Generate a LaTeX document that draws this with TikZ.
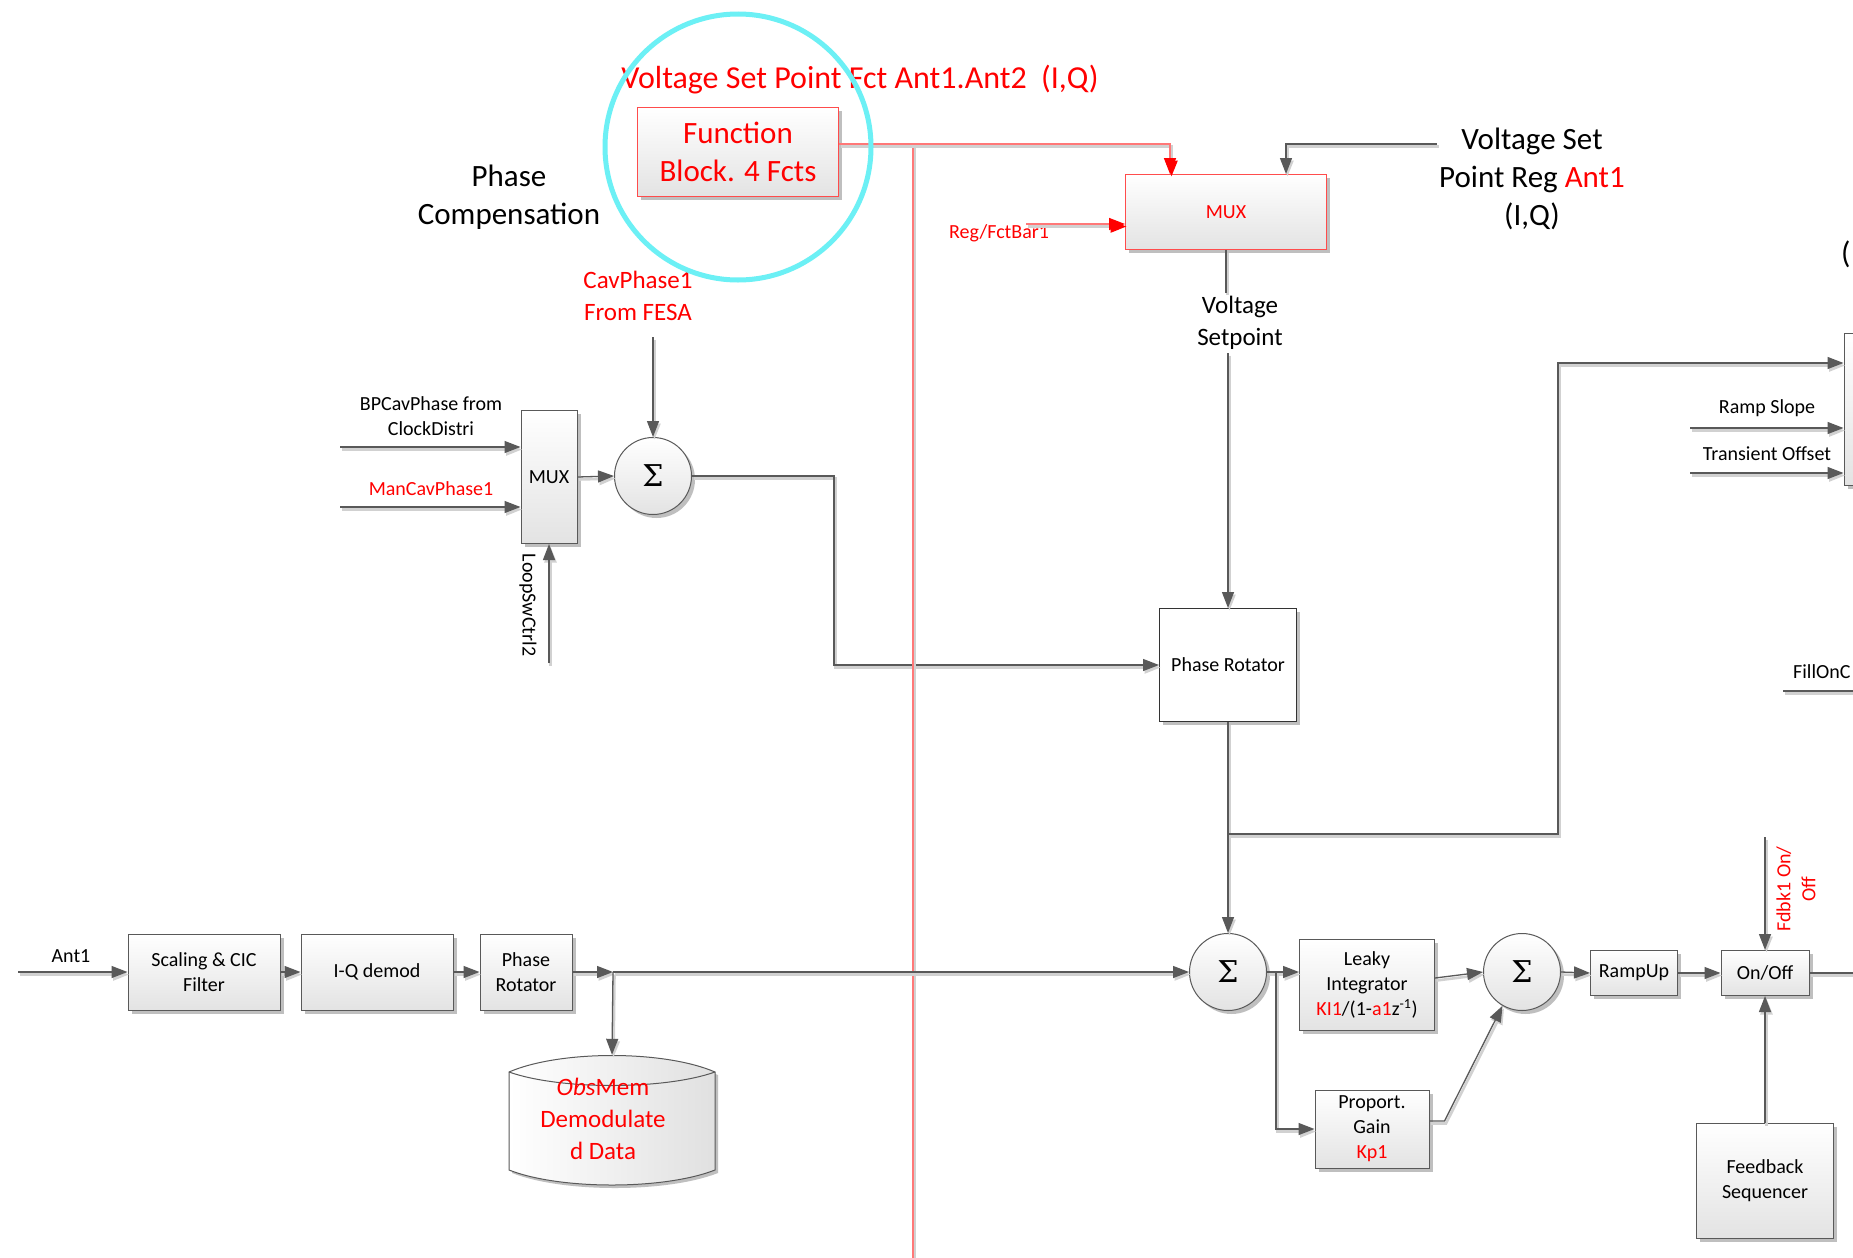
\documentclass[tikz,border=0pt]{standalone}
\usepackage{fontspec}
\setmainfont{Carlito}
\newfontfamily\dvserif{DejaVu Serif}
\usetikzlibrary{arrows.meta,shadows}
\newcommand\fBig{\fontsize{31}{38}\selectfont}
\newcommand\fTitle{\fontsize{32}{38}\selectfont}
\newcommand\fMed{\fontsize{25}{32}\selectfont}
\newcommand\fSm{\fontsize{20}{25}\selectfont}
\newcommand\fSig{\fontsize{30}{30}\selectfont\dvserif}
\definecolor{cyanc}{RGB}{108,240,245}
\definecolor{pinkr}{RGB}{255,120,120}
\tikzset{
  wire/.style={draw=black!65, line width=1.3pt,
    preaction={draw=black!18, line width=2.6pt, transform canvas={shift={(1.5pt,-2.5pt)}}}},
  arr/.style={wire, -{Triangle[length=16pt,width=12pt]}},
  redwire/.style={draw=pinkr, line width=1.5pt,
    preaction={draw=black!18, line width=2.6pt, transform canvas={shift={(1.5pt,-2.5pt)}}}},
  redarr/.style={redwire, -{Triangle[length=16pt,width=12pt,color=red,fill=red]}},
  box/.style={draw=black!65, line width=1pt, top color=white, bottom color=black!11,
    drop shadow={shadow xshift=3.5pt, shadow yshift=-3.5pt, fill=black!25, opacity=1},
    align=center, inner sep=0pt, font=\fSm},
  redbox/.style={box, draw=red!70, text=red},
  whitebox/.style={box, draw=black!80, top color=white, bottom color=white},
  sig/.style={box, circle, minimum size=77pt, font=\fSig}
}
\begin{document}
\begin{tikzpicture}[x=1pt,y=-1pt]
\useasboundingbox (0,0) rectangle (1853,1258);
\clip (0,0) rectangle (1853,1258);
\fill[white] (0,0) rectangle (1853,1258);

% ---------- texts ----------
\node[font=\fTitle, text=red] (title) at (860,80) {Voltage Set Point Fct Ant1.Ant2~~(I,Q)};
\node[font=\fBig, align=center] (pc) at (509,197) {Phase\\Compensation};
\node[font=\fBig, align=center] (vsr) at (1532,179) {Voltage Set\\Point Reg \textcolor{red}{Ant1}\\(I,Q)};
\node[font=\fSm, text=red] (rfb) at (999,233) {Reg/FctBar1};
\node[font=\fMed, align=center] (vs) at (1240,323) {Voltage\\Setpoint};
\node[font=\fMed, text=red, align=center] (cav) at (638,296) {CavPhase1\\From FESA};
\node[font=\fSm, align=center] (bpt) at (431,416) {BPCavPhase from\\ClockDistri};
\node[font=\fSm, text=red] (mant) at (431,489) {ManCavPhase1};
\node[font=\fSm, rotate=-90] (loopt) at (528,605) {LoopSwCtrl2};
\node[font=\fSm] (rst) at (1767,408) {Ramp Slope};
\node[font=\fSm] (tot) at (1767,454) {Transient Offset};
\node[font=\fSm, anchor=west, inner sep=0pt] (fillt) at (1793,672) {FillOnC};
\node[font=\fBig, anchor=west, inner sep=0pt] (paren) at (1841,254) {(};
\node[font=\fSm] (antt) at (71,956) {Ant1};
\node[font=\fSm, text=red, rotate=90, align=center] (fdt) at (1796,889) {Fdbk1 On/\\Off};

% ---------- blocks ----------
\node[redbox, minimum width=201pt, minimum height=89pt, font=\fBig] (fb) at (738,152) {Function\\Block. 4 Fcts};
\node[redbox, minimum width=201pt, minimum height=75pt] (mux2) at (1226,212) {MUX};
\node[box, minimum width=56pt, minimum height=133pt] (mux1) at (549,477) {MUX};
\node[sig] (sig1) at (653,476) {Σ};
\node[whitebox, minimum width=137pt, minimum height=113pt] (pr) at (1228,665) {Phase Rotator};
\node[box, minimum width=106pt, minimum height=152pt] (rbox) at (1897,409) {};

\node[box, minimum width=152pt, minimum height=76pt] (sc) at (204,972) {Scaling \& CIC\\Filter};
\node[box, minimum width=152pt, minimum height=76pt] (iq) at (377,972) {I-Q demod};
\node[box, minimum width=92pt, minimum height=76pt] (pr2) at (526,972) {Phase\\Rotator};
\node[sig] (sig2) at (1228,972) {Σ};
\node[box, minimum width=135pt, minimum height=91pt] (leaky) at (1367,985) {Leaky\\Integrator\\\textcolor{red}{KI1}/(1-\textcolor{red}{a1}z\textsuperscript{-1})};
\node[box, minimum width=114pt, minimum height=78pt] (prop) at (1372,1129) {Proport.\\Gain\\\textcolor{red}{Kp1}};
\node[sig] (sig3) at (1522,972) {Σ};
\node[box, minimum width=87pt, minimum height=45pt] (ramp) at (1634,973) {RampUp};
\node[box, minimum width=88pt, minimum height=45pt] (onoff) at (1765,973) {On/Off};
\node[box, minimum width=137pt, minimum height=115pt] (fseq) at (1765,1181) {Feedback\\Sequencer};

% ObsMem drum
\node[minimum width=206pt, minimum height=130pt, inner sep=0pt] (obs) at (612,1120) {};
\fill[black!25] (512,1075) .. controls (563,1053) and (667,1053) .. (718,1075) -- (718,1173)
   .. controls (667,1193) and (563,1193) .. (512,1173) -- cycle;
\path[left color=white, right color=black!12, draw=black!65, line width=1pt]
   (509,1072) .. controls (560,1050) and (664,1050) .. (715,1072) -- (715,1170)
   .. controls (664,1190) and (560,1190) .. (509,1170) -- cycle;
\draw[black!65, line width=1pt] (509,1072) .. controls (560,1090) and (664,1090) .. (715,1072);
\node[font=\fMed, text=red, align=center] (obst) at (603,1119) {\textit{Obs}Mem\\Demodulate\\d Data};

% ---------- free ends ----------
\coordinate (bpS) at (340,447);
\coordinate (manS) at (340,507);
\coordinate (loopS) at (549,663);
\coordinate (cavS) at (653,337);
\coordinate (vsrS) at (1437,144);
\coordinate (vsrK) at (1286,144);
\coordinate (rfS) at (1026,224);
\coordinate (redK) at (1170,144);
\coordinate (redV) at (913,144);
\coordinate (redB) at (913,1275);
\coordinate (br) at (1228,834);
\coordinate (brK) at (1558,363);
\coordinate (rsS) at (1690,428);
\coordinate (toS) at (1690,473);
\coordinate (fillS) at (1783,691);
\coordinate (fillE) at (1870,691);
\coordinate (antS) at (18,972);
\coordinate (jn) at (613,972);
\coordinate (fdS) at (1765,837);
\coordinate (outE) at (1870,973);

% ---------- connectors ----------
\draw[arr] (bpS) -- (bpS -| mux1.west);
\draw[arr] (manS) -- (manS -| mux1.west);
\draw[arr] (loopS) -- (mux1.south);
\draw[arr] (cavS) -- (sig1.north);
\draw[arr] (mux1.east) -- (sig1.west);
\draw[arr] (sig1.east) -- ++(142,0) |- (pr.west);

\draw[redwire] (redV) -- (redB);
\draw[redarr] (fb.east |- redK) -- (redK) -- (redK |- mux2.north);
\draw[arr] (vsrS) -- (vsrK) -- (vsrK |- mux2.north);
\draw[redarr] (rfS) -- (rfS -| mux2.west);
\draw[wire] (mux2.south) -- (mux2.south |- vs.north);
\draw[arr] (pr.north |- vs.south) -- (pr.north);
\draw[arr] (pr.south) -- (sig2.north);
\draw[arr] (br) -| (brK) -- (brK -| rbox.west);
\draw[arr] (rsS) -- (rsS -| rbox.west);
\draw[arr] (toS) -- (toS -| rbox.west);
\draw[wire] (fillS) -- (fillE);

\draw[arr] (antS) -- (sc.west);
\draw[arr] (sc.east) -- (iq.west);
\draw[arr] (iq.east) -- (pr2.west);
\draw[arr] (pr2.east) -- (jn);
\draw[arr] (jn) -- (sig2.west);
\draw[arr] (jn) -- (obs.north);
\draw[arr] (sig2.east) -- (sig2.east -| leaky.west);
\draw[arr] (sig2.east) ++(9,0) |- (prop.west);
\draw[arr] ([yshift=7pt]leaky.east) -- (sig3.west);
\draw[arr] ([yshift=8pt]prop.east) -- ++(15,0) -- (sig3.240);
\draw[arr] (sig3.east) -- (ramp.west);
\draw[arr] (ramp.east) -- (onoff.west);
\draw[arr] (onoff.east) -- (outE);
\draw[arr] (fdS) -- (onoff.north);
\draw[arr] (fseq.north) -- (onoff.south);

% highlight circle
\draw[cyanc, line width=5pt] (738,147) circle[radius=133];
\end{tikzpicture}
\end{document}
